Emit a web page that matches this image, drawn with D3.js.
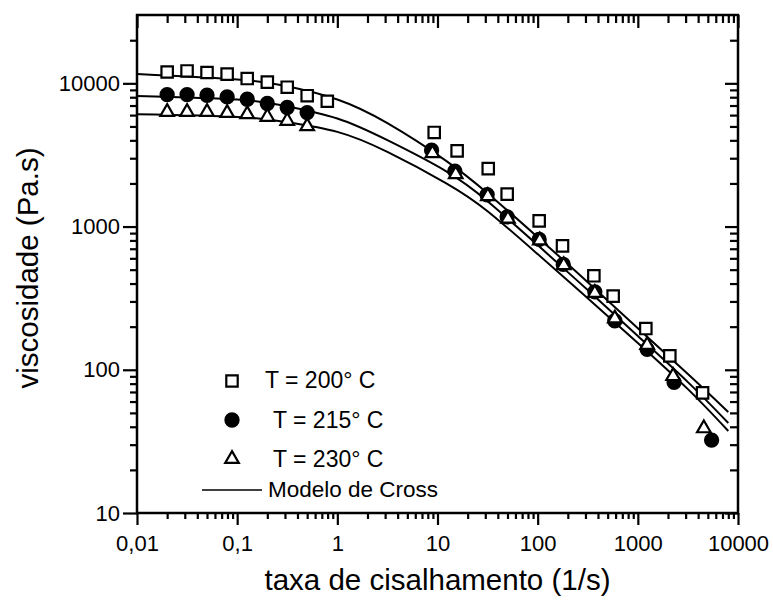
<!DOCTYPE html>
<html>
<head>
<meta charset="utf-8">
<script src="https://cdn.jsdelivr.net/npm/d3@7"></script>
<style>
  html, body { margin: 0; padding: 0; background: #fff; }
  svg { display: block; font-family: "Liberation Sans", Arial, sans-serif; }
</style>
</head>
<body>
<svg id="chart" width="773" height="600"></svg>
<script>
/* global d3 */

// ─── data ────────────────────────────────────────────────────────────────────

var taxa200 = [0.02, 0.0316, 0.05, 0.0794, 0.126, 0.2, 0.316, 0.5, 0.794,
  9.27, 15.7, 32.1, 49.6, 103.5, 177, 364, 567, 1202, 2086, 4430];
var visc200 = [12000, 12200, 11900, 11600, 10800, 10200, 9400, 8200, 7500,
  4540, 3375, 2540, 1683, 1096, 733, 453, 327, 194, 125, 69];

var taxa215 = [0.02, 0.0316, 0.05, 0.0794, 0.126, 0.2, 0.316, 0.5,
  8.73, 14.9, 31.3, 49.6, 103.5, 180, 372, 589, 1239, 2300, 5450];
var visc215 = [8350, 8350, 8260, 8040, 7740, 7230, 6780, 6250,
  3413, 2438, 1668, 1170, 813, 544, 350, 220, 139, 81.7, 32.3];

var taxa230 = [0.02, 0.0316, 0.05, 0.0794, 0.126, 0.2, 0.316, 0.5,
  8.9, 15.2, 31.8, 50.5, 105, 182, 372, 589, 1239, 2250, 4560];
var visc230 = [6310, 6310, 6310, 6210, 6085, 5830, 5470, 5020,
  3250, 2320, 1630, 1133, 800, 537, 344, 228, 149, 90.4, 39];

// Modelo de Cross curves, sampled from the drawn lines
var modeloTaxa = [0.01, 0.1, 0.316, 1, 3.16, 12, 31.6, 100, 316, 1000, 3160, 8000];
var modelo200 = [11600, 10630, 9550, 7710, 5270, 2900, 1710, 843, 409, 195, 93.3, 50.7];
var modelo215 = [8170, 7710, 6920, 5680, 4010, 2450, 1504, 742, 360, 172, 82, 42.5];
var modelo230 = [6085, 5830, 5350, 4580, 3320, 2020, 1280, 642, 316, 154, 73.3, 37.4];

var xTicks = [0.01, 0.1, 1, 10, 100, 1000, 10000];
var xTickLabels = ['0,01', '0,1', '1', '10', '100', '1000', '10000'];
var yTicks = [10, 100, 1000, 10000];
var yTickLabels = ['10', '100', '1000', '10000'];
var legendLabels = ['T = 200\u00B0 C', 'T = 215\u00B0 C', 'T = 230\u00B0 C', 'Modelo de Cross'];

// ─── layout ─────────────────────────────────────────────────────────────────

var L = 137, R = 738, T = 15, B = 513;

var svg = d3.select('#chart');

var x = d3.scaleLog().domain([0.01, 10000]).range([L, R]);
var y = d3.scaleLog().domain([10, 30000]).range([B, T]);

// 2..9 × 10^e for every decade in [lo, hi)
function minorTicks(lo, hi) {
  var out = [];
  for (var e = lo; e < hi; e++) {
    for (var m = 2; m <= 9; m++) out.push(m * Math.pow(10, e));
  }
  return out;
}

var xMinor = minorTicks(-2, 4);
var yMinor = minorTicks(1, 4).concat([20000]);

function styleAxis(g) {
  g.select('.domain').remove();
  g.selectAll('line').attr('stroke', '#000').attr('stroke-width', 2.2);
  g.selectAll('text').attr('fill', '#000').attr('font-size', 22);
}

// bottom (outward ticks)
svg.append('g')
  .attr('transform', 'translate(0,' + B + ')')
  .call(d3.axisBottom(x).tickValues(xTicks).tickSize(12).tickPadding(10)
    .tickFormat(function (d, i) { return xTickLabels[i]; }))
  .call(styleAxis);
svg.append('g')
  .attr('transform', 'translate(0,' + B + ')')
  .call(d3.axisBottom(x).tickValues(xMinor).tickSize(6).tickFormat(''))
  .call(styleAxis);

// top (inward ticks)
svg.append('g')
  .attr('transform', 'translate(0,' + T + ')')
  .call(d3.axisTop(x).tickValues(xTicks).tickSize(-13).tickFormat(''))
  .call(styleAxis);
svg.append('g')
  .attr('transform', 'translate(0,' + T + ')')
  .call(d3.axisTop(x).tickValues(xMinor).tickSize(-8).tickFormat(''))
  .call(styleAxis);

// left (outward ticks)
svg.append('g')
  .attr('transform', 'translate(' + L + ',0)')
  .call(d3.axisLeft(y).tickValues(yTicks).tickSize(14).tickPadding(3)
    .tickFormat(function (d, i) { return yTickLabels[i]; }))
  .call(styleAxis);
svg.append('g')
  .attr('transform', 'translate(' + L + ',0)')
  .call(d3.axisLeft(y).tickValues(yMinor).tickSize(7).tickFormat(''))
  .call(styleAxis);

// right (inward ticks)
svg.append('g')
  .attr('transform', 'translate(' + R + ',0)')
  .call(d3.axisRight(y).tickValues(yTicks).tickSize(-13).tickFormat(''))
  .call(styleAxis);
svg.append('g')
  .attr('transform', 'translate(' + R + ',0)')
  .call(d3.axisRight(y).tickValues(yMinor).tickSize(-8).tickFormat(''))
  .call(styleAxis);

// frame
svg.append('rect')
  .attr('x', L).attr('y', T)
  .attr('width', R - L).attr('height', B - T)
  .attr('fill', 'none')
  .attr('stroke', '#000')
  .attr('stroke-width', 2.5);

// ─── axis titles ────────────────────────────────────────────────────────────

svg.append('text')
  .attr('x', (L + R) / 2).attr('y', 590)
  .attr('text-anchor', 'middle')
  .attr('font-size', 29.5)
  .text('taxa de cisalhamento (1/s)');

svg.append('text')
  .attr('transform', 'translate(38,' + ((T + B) / 2 + 4) + ') rotate(-90)')
  .attr('text-anchor', 'middle')
  .attr('font-size', 29.5)
  .text('viscosidade (Pa.s)');

// ─── model lines ────────────────────────────────────────────────────────────

var line = d3.line()
  .x(function (d) { return x(d[0]); })
  .y(function (d) { return y(d[1]); })
  .curve(d3.curveNatural);

[modelo200, modelo215, modelo230].forEach(function (vals) {
  svg.append('path')
    .datum(modeloTaxa.map(function (t, i) { return [t, vals[i]]; }))
    .attr('d', line)
    .attr('fill', 'none')
    .attr('stroke', '#000')
    .attr('stroke-width', 2);
});

// ─── markers ────────────────────────────────────────────────────────────────

var series = [
  { taxa: taxa200, visc: visc200, type: d3.symbolSquare, size: 130, fill: '#fff' },
  { taxa: taxa215, visc: visc215, type: d3.symbolCircle, size: 135, fill: '#000' },
  { taxa: taxa230, visc: visc230, type: d3.symbolTriangle, size: 80, fill: '#fff' }
];

series.forEach(function (s) {
  var pts = s.taxa.map(function (t, i) { return [t, s.visc[i]]; });
  svg.append('g').selectAll('path')
    .data(pts)
    .enter().append('path')
    .attr('transform', function (d) { return 'translate(' + x(d[0]) + ',' + y(d[1]) + ')'; })
    .attr('d', d3.symbol().type(s.type).size(s.size))
    .attr('fill', s.fill)
    .attr('stroke', '#000')
    .attr('stroke-width', 2.2);
});

// ─── legend ─────────────────────────────────────────────────────────────────

var legendRows = [
  { sym: series[0], sx: 232, sy: 381, tx: 265, ty: 388 },
  { sym: series[1], sx: 232, sy: 420, tx: 273, ty: 428 },
  { sym: series[2], sx: 232, sy: 459, tx: 273, ty: 467 }
];

legendRows.forEach(function (r, i) {
  svg.append('path')
    .attr('transform', 'translate(' + r.sx + ',' + r.sy + ')')
    .attr('d', d3.symbol().type(r.sym.type).size(r.sym.size))
    .attr('fill', r.sym.fill)
    .attr('stroke', '#000')
    .attr('stroke-width', 2.2);
  svg.append('text')
    .attr('x', r.tx).attr('y', r.ty)
    .attr('font-size', 23)
    .text(legendLabels[i]);
});

svg.append('line')
  .attr('x1', 202).attr('x2', 262)
  .attr('y1', 490).attr('y2', 490)
  .attr('stroke', '#000')
  .attr('stroke-width', 1.5);
svg.append('text')
  .attr('x', 268).attr('y', 497)
  .attr('font-size', 22.5)
  .text(legendLabels[3]);
</script>
</body>
</html>
